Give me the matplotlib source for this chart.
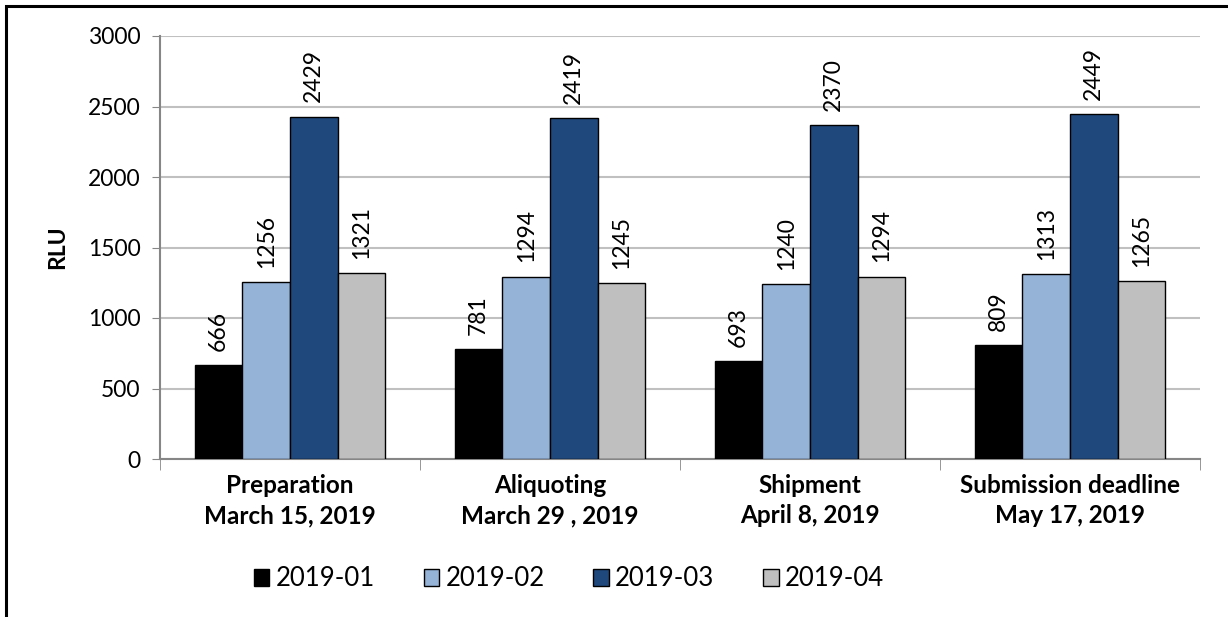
import numpy as np
import matplotlib.pyplot as plt
from matplotlib.patches import Rectangle

plt.rcParams['font.family'] = ['Lato', 'DejaVu Sans']

categories = ["Preparation\nMarch 15, 2019", "Aliquoting\nMarch 29 , 2019",
              "Shipment\nApril 8, 2019", "Submission deadline\nMay 17, 2019"]
series = ["2019-01", "2019-02", "2019-03", "2019-04"]
v01 = [666, 781, 693, 809]
v02 = [1256, 1294, 1240, 1313]
v03 = [2429, 2419, 2370, 2449]
v04 = [1321, 1245, 1294, 1265]
colors = ["#000000", "#95B3D7", "#1F497D", "#BFBFBF"]

fig = plt.figure(figsize=(12.28, 6.17), dpi=100)
ax = fig.add_axes([160/1228, 1-459/617, (1200-160)/1228, (459-36)/617])

# chart frame (only top and left edges fall inside the picture)
fig.patches.append(Rectangle((6/1228, -0.1), 1.2, 1-6/617+0.1, transform=fig.transFigure,
                             fill=False, edgecolor='black', linewidth=2.2))

x = np.arange(len(categories))
w = 0.183
allvals = [v01, v02, v03, v04]
for i, vals in enumerate(allvals):
    pos = x + (i - 1.5) * w
    ax.bar(pos, vals, w, color=colors[i], edgecolor='black', linewidth=1.0,
           label=series[i], zorder=3)
    for p, v in zip(pos, vals):
        ax.text(p, v + 100, str(v), rotation=90, ha='center', va='bottom', fontsize=16.5)

ax.set_xlim(-0.5, 3.5)
ax.set_ylim(0, 3000)
ax.set_yticks(range(0, 3001, 500))
ax.tick_params(axis='y', labelsize=16.5, length=6, color='#868686', pad=8)
ax.set_xticks(x)
ax.set_xticklabels(categories, fontsize=17.5, fontweight='bold', linespacing=1.35)
ax.tick_params(axis='x', length=0, pad=11)
ax.set_xticks(np.arange(-0.5, 4, 1), minor=True)
ax.tick_params(axis='x', which='minor', length=8, color='#868686')
ax.grid(axis='y', color='#C0C0C0', linewidth=1.5, zorder=0)
for s in ['top', 'right']:
    ax.spines[s].set_visible(False)
for s in ['left', 'bottom']:
    ax.spines[s].set_color('#868686')
    ax.spines[s].set_linewidth(1.5)
ax.set_ylabel("RLU", fontsize=16.5, fontweight='bold', labelpad=14)

fig.legend(loc='center', bbox_to_anchor=(569/1228, 1-579/617), ncol=4, frameon=False,
           fontsize=18.5, handlelength=0.6, handleheight=0.6, handletextpad=0.25,
           columnspacing=1.9)

fig.savefig("out.png", dpi=100)
